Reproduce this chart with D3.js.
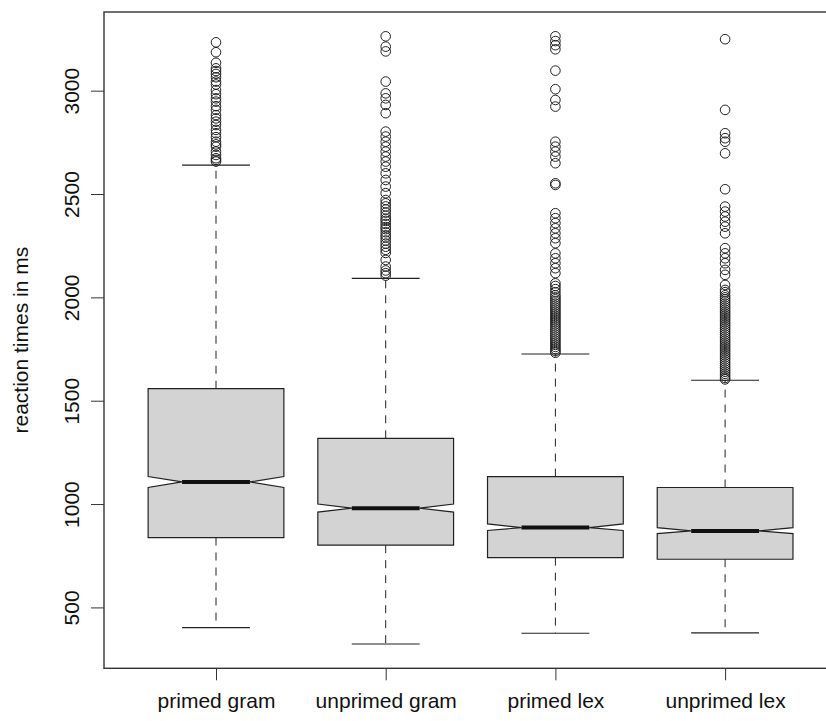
<!DOCTYPE html>
<html>
<head>
<meta charset="utf-8">
<script src="https://cdn.jsdelivr.net/npm/d3@7"></script>
<style>
    body { margin: 0; background: #fff; }
    text { font-family: "Liberation Sans", Arial, Helvetica, sans-serif; fill: #111; }
</style>
</head>
<body>
<svg id="chart"></svg>
<script>
// groups and box statistics (ms)
let categories = ["primed gram", "unprimed gram", "primed lex", "unprimed lex"];
let whiskerLo = [402, 323, 375, 377];
let q1 = [838, 801, 741, 733];
let notchLo = [1080, 961, 872, 857];
let median = [1107, 980, 886, 870];
let notchHi = [1133, 1000, 904, 886];
let q3 = [1558, 1318, 1133, 1080];
let whiskerHi = [2640, 2092, 1726, 1599];

let outPrimedGram = [3234, 3186, 3135, 3108, 3095, 3081, 3065, 3044, 3030, 3003, 2983, 2963, 2947,
    2925, 2907, 2882, 2866, 2850, 2834, 2810, 2794, 2775, 2753, 2740, 2729, 2705, 2689, 2673, 2665, 2657];
let outUnprimedGram = [3263, 3213, 3190, 3044, 2987, 2963, 2931, 2891, 2802, 2778, 2753, 2729, 2705,
    2681, 2657, 2632, 2600, 2568, 2536, 2504, 2471, 2455, 2440, 2425, 2410, 2395, 2380, 2370, 2355,
    2340, 2330, 2315, 2300, 2290, 2275, 2260, 2245, 2230, 2215, 2181, 2149, 2130, 2117, 2105];
let outPrimedLex = [3263, 3240, 3220, 3200, 3097, 3007, 2955, 2923, 2753, 2729, 2705, 2681, 2649,
    2552, 2544, 2407, 2383, 2359, 2334, 2310, 2286, 2262, 2213, 2189, 2165, 2141, 2117, 2068, 2055,
    2040, 2025, 2010, 2000, 1990, 1980, 1970, 1960, 1950, 1940, 1930, 1920, 1910, 1900, 1890, 1880,
    1870, 1860, 1850, 1840, 1830, 1820, 1810, 1800, 1790, 1780, 1770, 1760, 1750, 1740, 1732];
let outUnprimedLex = [3249, 2907, 2794, 2770, 2753, 2697, 2523, 2439, 2415, 2391, 2366, 2342, 2310,
    2238, 2213, 2189, 2165, 2133, 2109, 2060, 2036, 2025, 2010, 2000, 1990, 1980, 1970, 1960, 1950,
    1940, 1930, 1920, 1910, 1900, 1890, 1880, 1870, 1860, 1850, 1840, 1830, 1820, 1810, 1800, 1790,
    1780, 1770, 1760, 1750, 1740, 1730, 1720, 1710, 1700, 1690, 1680, 1670, 1660, 1650, 1640, 1630,
    1620, 1610, 1603];
let yTicks = [500, 1000, 1500, 2000, 2500, 3000];
let yLabel = "reaction times in ms";

let width = 826, height = 721;
let margin = {top: 12, left: 104, bottom: 52.7};
let outliers = [outPrimedGram, outUnprimedGram, outPrimedLex, outUnprimedLex];

let boxes = categories.map(function(c, i) {
    return {name: c, i: i + 1, lo: whiskerLo[i], q1: q1[i], nlo: notchLo[i], med: median[i],
        nhi: notchHi[i], q3: q3[i], hi: whiskerHi[i], out: outliers[i]};
});

// R style 4% padding on both axes
let allVals = d3.merge(outliers.concat([whiskerLo]));
let yMin = d3.min(allVals), yMax = d3.max(allVals);
let pad = (yMax - yMin) * 0.04;
let y = d3.scaleLinear()
    .domain([yMin - pad, yMax + pad])
    .range([height - margin.bottom, margin.top]);
let xPad = (categories.length) * 0.04;
let x = d3.scaleLinear()
    .domain([0.5 - xPad, categories.length + 0.5 + xPad])
    .range([margin.left, margin.left + 4.32 * 169.7]);
let unit = x(1) - x(0);
let hw = 0.4 * unit;

let svg = d3.select("#chart")
    .attr("width", width)
    .attr("height", height);

let g = svg.selectAll(".box")
    .data(boxes)
    .enter().append("g")
    .attr("class", "box");

// whiskers
g.append("line")
    .attr("x1", function(d) { return x(d.i); })
    .attr("x2", function(d) { return x(d.i); })
    .attr("y1", function(d) { return y(d.q3); })
    .attr("y2", function(d) { return y(d.hi); })
    .attr("stroke", "#222").attr("stroke-dasharray", "8,7");
g.append("line")
    .attr("x1", function(d) { return x(d.i); })
    .attr("x2", function(d) { return x(d.i); })
    .attr("y1", function(d) { return y(d.q1); })
    .attr("y2", function(d) { return y(d.lo); })
    .attr("stroke", "#222").attr("stroke-dasharray", "8,7");
["hi", "lo"].forEach(function(k) {
    g.append("line")
        .attr("x1", function(d) { return x(d.i) - hw / 2; })
        .attr("x2", function(d) { return x(d.i) + hw / 2; })
        .attr("y1", function(d) { return y(d[k]); })
        .attr("y2", function(d) { return y(d[k]); })
        .attr("stroke", "#222").attr("stroke-width", 1.2);
});

// notched box
g.append("path")
    .attr("d", function(d) {
        let c = x(d.i);
        return d3.line()([
            [c - hw, y(d.q3)], [c + hw, y(d.q3)], [c + hw, y(d.nhi)], [c + hw / 2, y(d.med)],
            [c + hw, y(d.nlo)], [c + hw, y(d.q1)], [c - hw, y(d.q1)], [c - hw, y(d.nlo)],
            [c - hw / 2, y(d.med)], [c - hw, y(d.nhi)]
        ]) + "Z";
    })
    .attr("fill", "#d3d3d3")
    .attr("stroke", "#222")
    .attr("stroke-width", 1.2);
g.append("line")
    .attr("x1", function(d) { return x(d.i) - hw / 2; })
    .attr("x2", function(d) { return x(d.i) + hw / 2; })
    .attr("y1", function(d) { return y(d.med); })
    .attr("y2", function(d) { return y(d.med); })
    .attr("stroke", "#111").attr("stroke-width", 4);

// outliers
g.selectAll("circle")
    .data(function(d) { return d.out.map(function(v) { return {i: d.i, v: v}; }); })
    .enter().append("circle")
    .attr("cx", function(d) { return x(d.i); })
    .attr("cy", function(d) { return y(d.v); })
    .attr("r", 4.8)
    .attr("fill", "none")
    .attr("stroke", "#222")
    .attr("stroke-width", 1);

// frame
svg.append("rect")
    .attr("x", x.range()[0]).attr("y", margin.top)
    .attr("width", x.range()[1] - x.range()[0])
    .attr("height", height - margin.bottom - margin.top)
    .attr("fill", "none").attr("stroke", "#333").attr("stroke-width", 1.4);

// axes
let yAxis = d3.axisLeft(y).tickValues(yTicks).tickSize(13).tickFormat(d3.format("d"));
let ya = svg.append("g")
    .attr("transform", "translate(" + margin.left + ",0)")
    .call(yAxis);
ya.select(".domain").remove();
ya.selectAll("line").attr("stroke", "#333");
ya.selectAll("text")
    .attr("x", 0).attr("dy", 0)
    .attr("transform", "translate(-25,0) rotate(-90)")
    .attr("text-anchor", "middle")
    .style("font-size", "21px");

let xAxis = d3.axisBottom(x).tickValues(d3.range(1, categories.length + 1)).tickSize(12)
    .tickFormat(function(d) { return categories[d - 1]; });
let xa = svg.append("g")
    .attr("transform", "translate(0," + (height - margin.bottom) + ")")
    .call(xAxis);
xa.select(".domain").remove();
xa.selectAll("line").attr("stroke", "#333");
xa.selectAll("text")
    .attr("y", 39.5).attr("dy", 0)
    .style("font-size", "21px");

svg.append("text")
    .attr("transform", "translate(28," + (margin.top + (height - margin.bottom - margin.top) / 2) + ") rotate(-90)")
    .attr("text-anchor", "middle")
    .style("font-size", "21px")
    .text(yLabel);
</script>
</body>
</html>
